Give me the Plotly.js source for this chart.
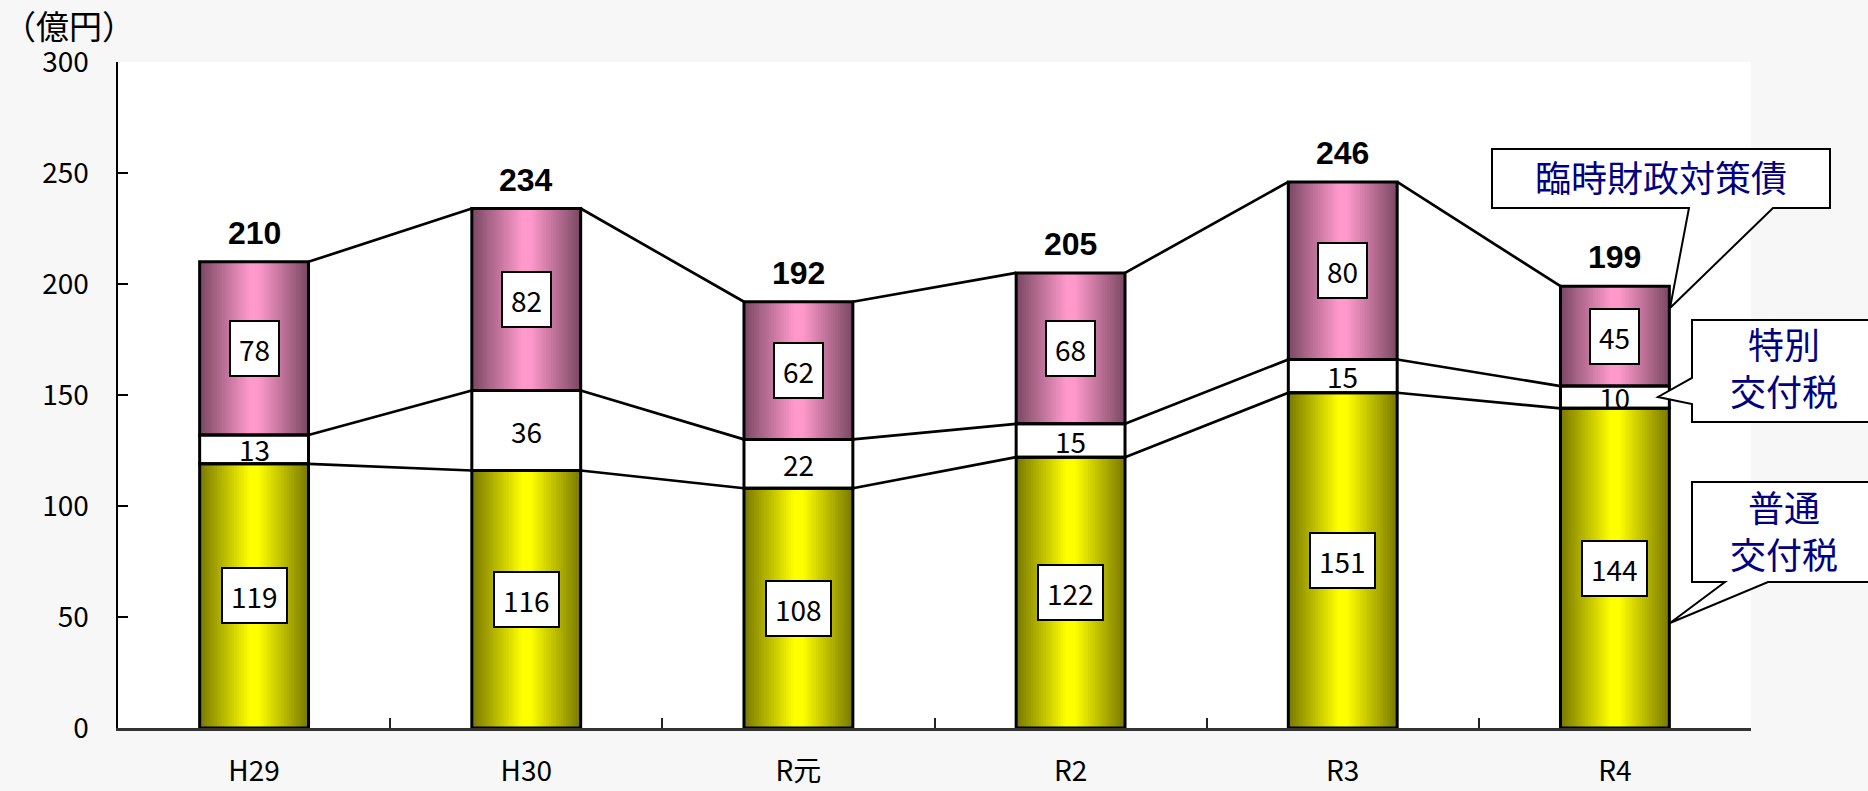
<!DOCTYPE html>
<html>
<head>
<meta charset="utf-8">
<script src="https://cdn.plot.ly/plotly-3.0.1.min.js"></script>
<style>html,body{margin:0;padding:0;background:#f7f7f7;}#chart{width:1868px;height:791px;}</style>
</head>
<body>
<div id="chart"></div>
<script>
// ---- data ----
const categories = ['H29', 'H30', 'R元', 'R2', 'R3', 'R4'];
const futsu = [119, 116, 108, 122, 151, 144];      // 普通交付税
const tokubetsu = [13, 36, 22, 15, 15, 10];        // 特別交付税
const rinji = [78, 82, 62, 68, 80, 45];            // 臨時財政対策債
const totals = [210, 234, 192, 205, 246, 199];
const yTickVals = [0, 50, 100, 150, 200, 250, 300];
const unitLabel = '（億円）';
const legendRinji = '臨時財政対策債';
const legendToku = '特別<br>交付税';
const legendFutsu = '普通<br>交付税';

// ---- layout constants (pixels) ----
const W = 1868, H = 791;
const L = 118, R = 1751, T = 62, B = 728;
const PW = R - L, PH = B - T;
const BARW = 0.4;
const NUM_FONT = 'Noto Sans CJK JP, Noto Sans, sans-serif';
const px2x = p => (p - L) / PW;
const px2y = p => (B - p) / PH;

const baseToku = futsu.map(v => v);
const baseRinji = futsu.map((v, i) => v + tokubetsu[i]);
const lvl2 = baseRinji;

function mix(c1, c2, t) {
  const r = Math.round(c1[0] + (c2[0] - c1[0]) * t);
  const g = Math.round(c1[1] + (c2[1] - c1[1]) * t);
  const b = Math.round(c1[2] + (c2[2] - c1[2]) * t);
  return 'rgb(' + r + ',' + g + ',' + b + ')';
}

const traces = [];
const N = 22;
function gradientBars(vals, base, dark, bright, name) {
  for (let k = 0; k < N; k++) {
    const t = (k + 0.5) / N;
    traces.push({
      type: 'bar', x: categories, y: vals, base: base,
      width: BARW * (1 - k / N),
      marker: {color: mix(dark, bright, Math.min(1, t * 1.08)), line: {width: 0}},
      name: name, showlegend: false, hoverinfo: 'skip'
    });
  }
}
gradientBars(futsu, null, [120, 120, 0], [255, 255, 0], '普通交付税');
gradientBars(rinji, baseRinji, [122, 72, 98], [255, 153, 204], '臨時財政対策債');

traces.push({
  type: 'bar', x: categories, y: tokubetsu, base: baseToku, width: BARW,
  marker: {color: 'white', line: {color: 'black', width: 3}},
  name: '特別交付税', showlegend: false, hoverinfo: 'skip'
});
traces.push({
  type: 'bar', x: categories, y: futsu, width: BARW,
  marker: {color: 'rgba(0,0,0,0)', line: {color: 'black', width: 3}},
  showlegend: false, hoverinfo: 'skip'
});
traces.push({
  type: 'bar', x: categories, y: rinji, base: baseRinji, width: BARW,
  marker: {color: 'rgba(0,0,0,0)', line: {color: 'black', width: 3}},
  showlegend: false, hoverinfo: 'skip'
});

// series connector lines
function connector(levels) {
  const xs = [], ys = [];
  for (let i = 0; i < levels.length - 1; i++) {
    xs.push(i + BARW / 2, i + 1 - BARW / 2, null);
    ys.push(levels[i], levels[i + 1], null);
  }
  return {type: 'scatter', mode: 'lines', x: xs, y: ys, xaxis: 'x2', yaxis: 'y',
    line: {color: 'black', width: 2.7}, showlegend: false, hoverinfo: 'skip', connectgaps: false};
}
traces.push(connector(futsu));
traces.push(connector(lvl2));
traces.push(connector(totals));

// annotations
const annotations = [];
const boxed = (x, y, txt) => ({
  x: x, y: y, xref: 'x', yref: 'y', text: String(txt), showarrow: false,
  font: {family: NUM_FONT, size: 28, color: 'black'},
  bgcolor: 'white', bordercolor: 'black', borderwidth: 2, borderpad: 8, height: 37
});
categories.forEach((c, i) => {
  annotations.push(boxed(c, futsu[i] / 2, futsu[i]));
  annotations.push(boxed(c, baseRinji[i] + rinji[i] / 2, rinji[i]));
  annotations.push({
    x: c, y: baseToku[i] + tokubetsu[i] / 2, xref: 'x', yref: 'y', text: String(tokubetsu[i]),
    showarrow: false, font: {family: NUM_FONT, size: 28, color: 'black'}
  });
  annotations.push({
    x: c, y: totals[i], xref: 'x', yref: 'y', text: '<b>' + totals[i] + '</b>',
    showarrow: false, yanchor: 'bottom', yshift: 9,
    font: {family: 'Liberation Sans, Arial, sans-serif', size: 32, color: 'black'}
  });
});
annotations.push({
  x: px2x(1), y: px2y(25), xref: 'paper', yref: 'paper', xanchor: 'left', yanchor: 'middle',
  text: unitLabel, showarrow: false, font: {family: NUM_FONT, size: 33, color: 'black'}
});
const legendFont = {family: 'Noto Sans CJK JP, sans-serif', size: 36, color: '#000080'};
annotations.push({x: px2x(1661), y: px2y(176), xref: 'paper', yref: 'paper', text: legendRinji,
  showarrow: false, font: legendFont, xanchor: 'center', yanchor: 'middle'});
annotations.push({x: px2x(1784), y: px2y(367), xref: 'paper', yref: 'paper', text: legendToku,
  showarrow: false, font: legendFont, xanchor: 'center', yanchor: 'middle'});
annotations.push({x: px2x(1784), y: px2y(529), xref: 'paper', yref: 'paper', text: legendFutsu,
  showarrow: false, font: legendFont, xanchor: 'center', yanchor: 'middle'});

function pathOf(pts) {
  return 'M ' + pts.map(p => px2x(p[0]).toFixed(5) + ',' + px2y(p[1]).toFixed(5)).join(' L ') + ' Z';
}
const calloutStyle = {type: 'path', xref: 'paper', yref: 'paper', fillcolor: 'white',
  line: {color: 'black', width: 2}, layer: 'above'};
const shapes = [
  Object.assign({path: pathOf([[1492,149],[1830,149],[1830,208],[1773,208],[1670,308],[1689,208],[1492,208]])}, calloutStyle),
  Object.assign({path: pathOf([[1692,320],[1885,320],[1885,422],[1692,422],[1692,404],[1658,397],[1692,378]])}, calloutStyle),
  Object.assign({path: pathOf([[1692,482],[1885,482],[1885,582],[1768,582],[1670,623],[1725,582],[1692,582]])}, calloutStyle)
];

const layout = {
  width: W, height: H,
  margin: {l: L, r: W - R, t: T, b: H - B, pad: 0},
  paper_bgcolor: '#f7f7f7', plot_bgcolor: 'white',
  barmode: 'overlay', showlegend: false,
  font: {family: NUM_FONT, color: 'black'},
  xaxis: {
    type: 'category', range: [-0.5, 5.5], tickson: 'boundaries',
    ticks: 'inside', ticklen: 10, tickwidth: 2, tickcolor: '#222',
    showline: true, linecolor: '#333', linewidth: 2.5, showgrid: false, zeroline: false,
    tickfont: {family: NUM_FONT, size: 28, color: 'black'}, ticklabelstandoff: 17, fixedrange: true
  },
  xaxis2: {overlaying: 'x', range: [-0.5, 5.5], visible: false, type: 'linear', fixedrange: true},
  yaxis: {
    range: [0, 300], tickvals: yTickVals, ticks: 'inside', ticklen: 10, tickwidth: 2, tickcolor: 'black',
    showline: true, linecolor: 'black', linewidth: 2.5, showgrid: false, zeroline: false,
    tickfont: {family: NUM_FONT, size: 28, color: 'black'}, ticklabelstandoff: 21, fixedrange: true
  },
  annotations: annotations,
  shapes: shapes
};

Plotly.newPlot('chart', traces, layout, {staticPlot: true, displayModeBar: false});
</script>
</body>
</html>
